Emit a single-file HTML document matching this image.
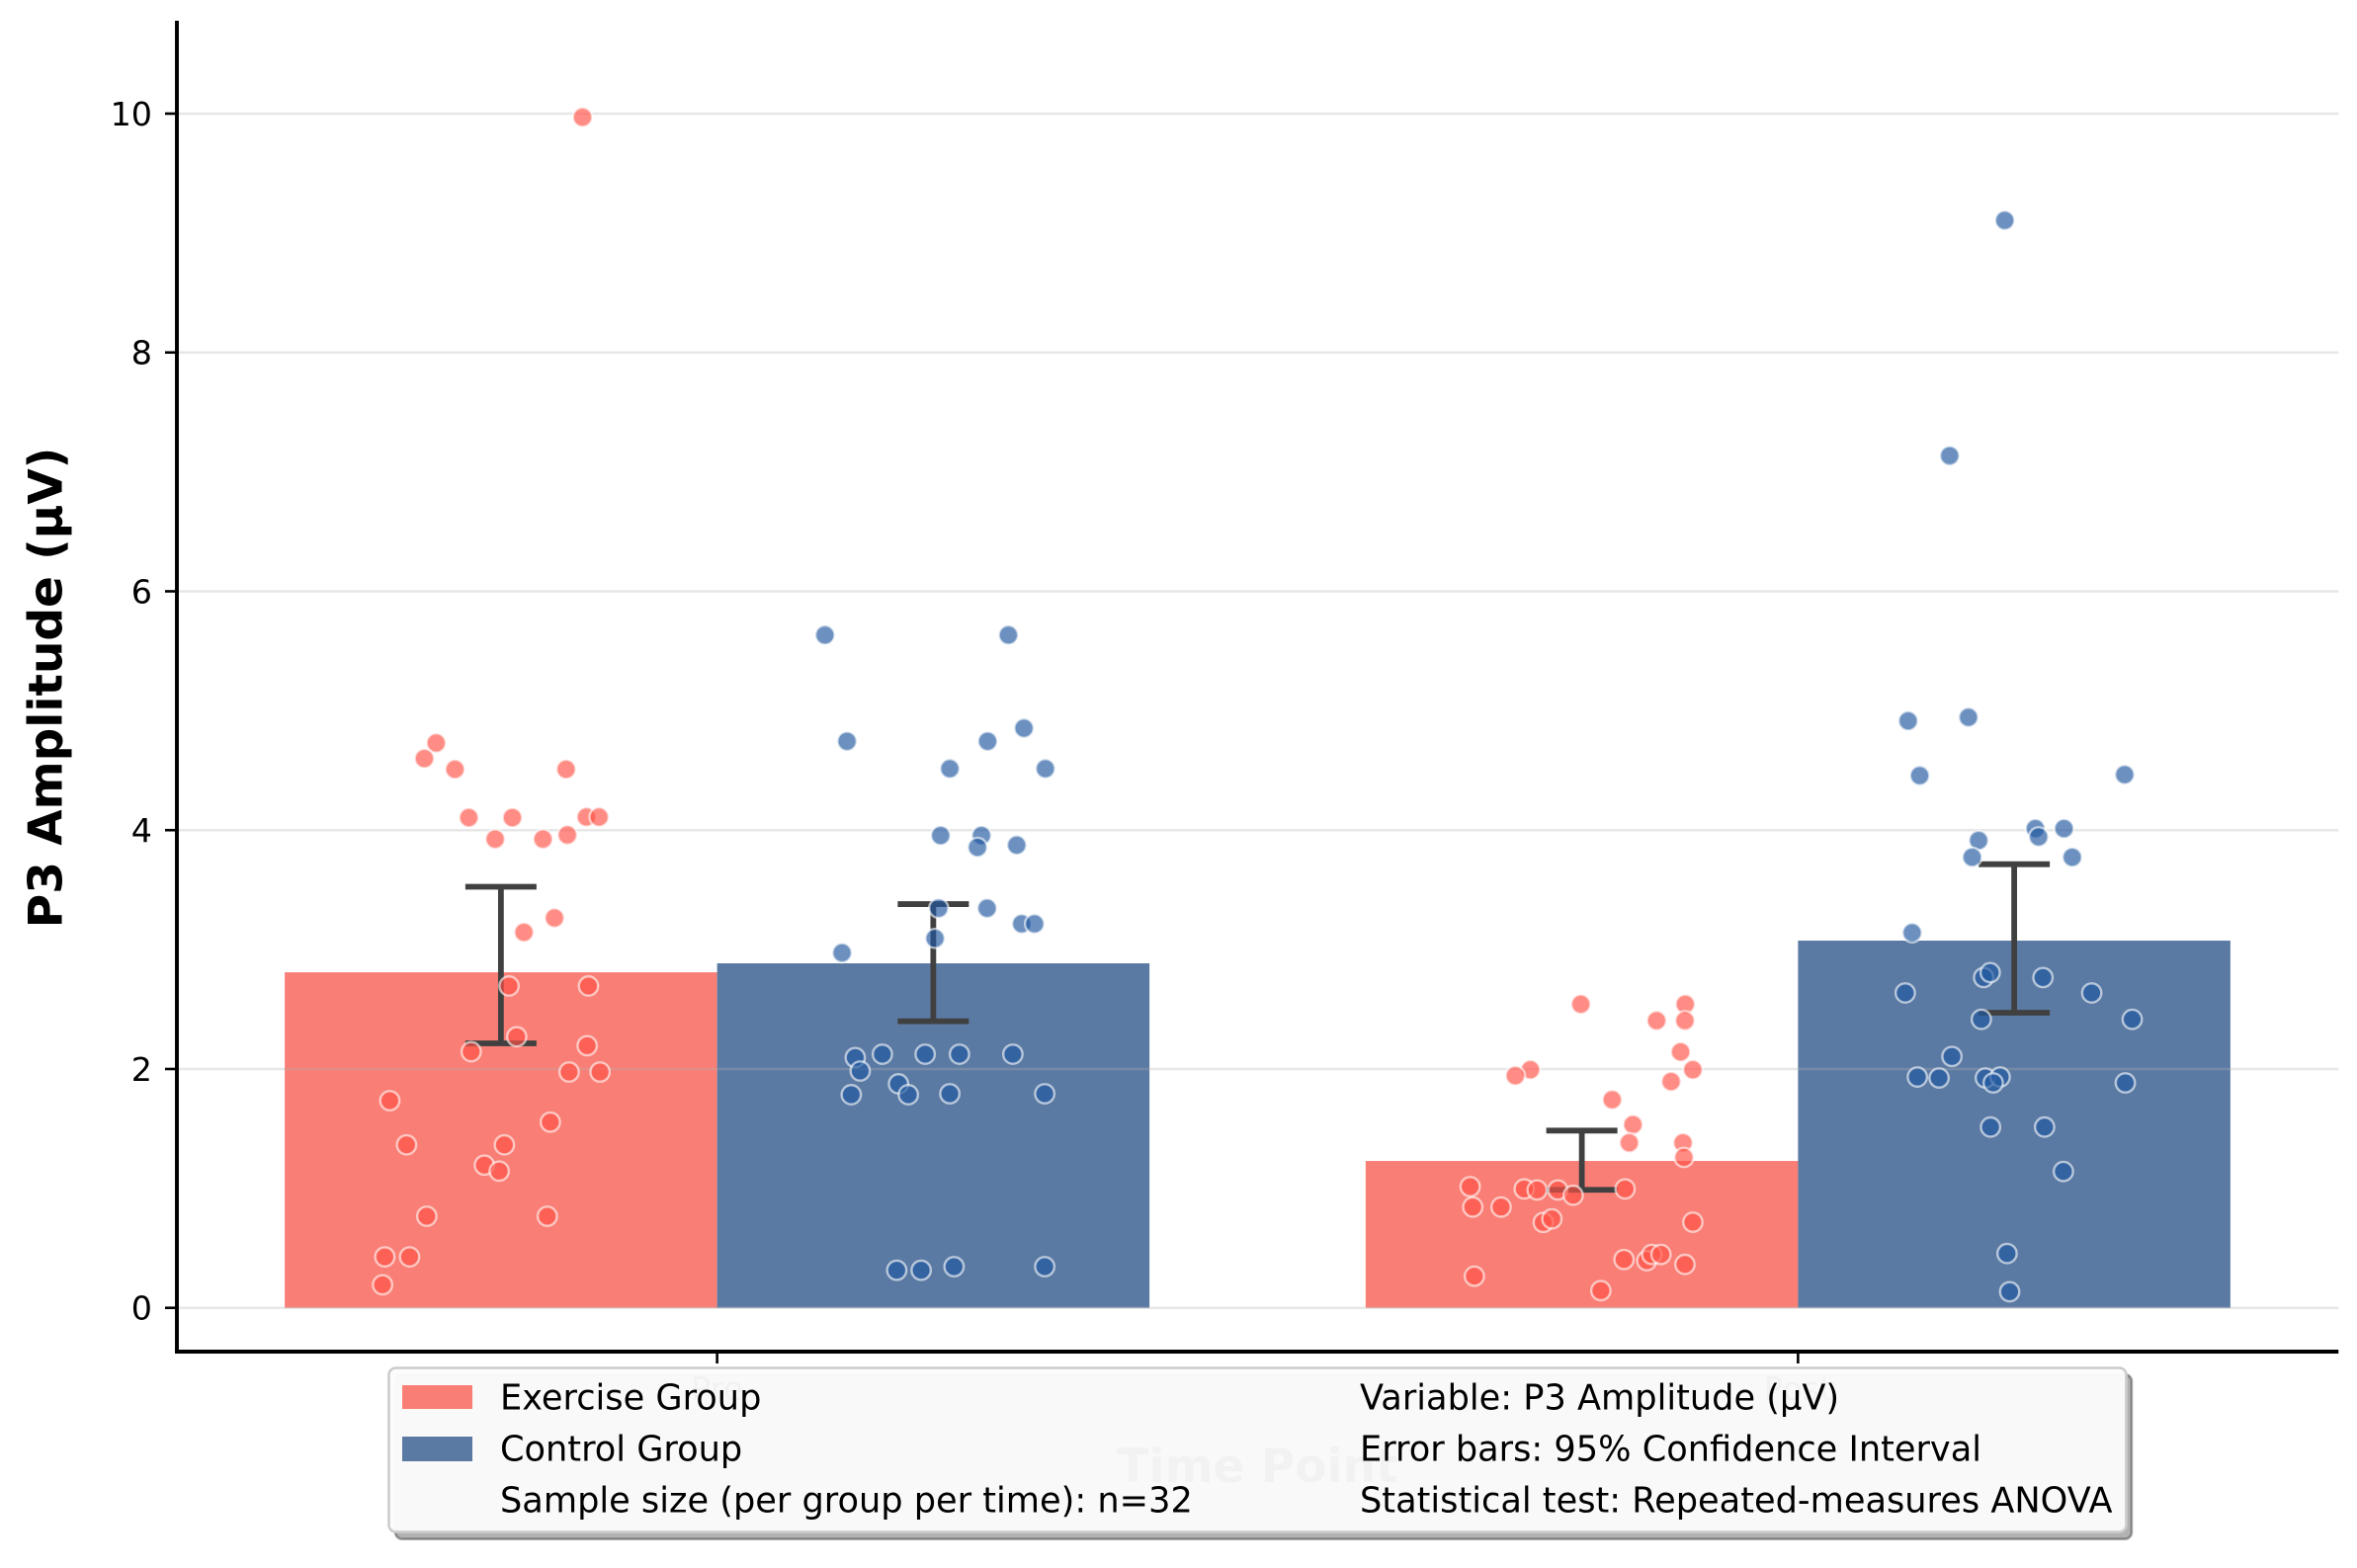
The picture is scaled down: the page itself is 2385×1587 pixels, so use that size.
<!DOCTYPE html>
<html lang="en">
<head>
<meta charset="utf-8">
<title>P3 Amplitude by Time Point</title>
<style>
  html, body { margin: 0; padding: 0; background: #ffffff; }
  svg { display: block; }
  text { font-family: "DejaVu Sans", "Liberation Sans", sans-serif; fill: #000; }
</style>
</head>
<body>
<svg id="chart" xmlns="http://www.w3.org/2000/svg" width="2385" height="1587" viewBox="0 0 2385 1587">
  <rect x="0" y="0" width="2385" height="1587" fill="#ffffff"/>
  <g id="grid-layer"></g>
  <g id="bar-layer"></g>
  <g id="grid-over-layer"></g>
  <g id="error-layer"></g>
  <g id="point-layer"></g>
  <g id="axis-layer"></g>
  <text transform="translate(62.5,696) rotate(-90)" text-anchor="middle" font-size="47" font-weight="bold">P3 Amplitude (µV)</text>
  <text x="1272.5" y="1500" text-anchor="middle" font-size="47" font-weight="bold">Time Point</text>

  <g>
    <rect x="400" y="1391" width="1757" height="166.7" rx="7" fill="#000000" fill-opacity="0.3" stroke="#000000" stroke-opacity="0.33" stroke-width="2.6"/>
    <rect x="393.5" y="1384.5" width="1758" height="166" rx="7" fill="#fcfcfc" fill-opacity="0.96" stroke="#cccccc" stroke-width="2.6"/>
    <rect x="407" y="1402" width="71" height="24" fill="#f97f76"/>
    <rect x="407" y="1454" width="71" height="25" fill="#5b7aa3"/>
    <text x="506" y="1426.5" font-size="35.15">Exercise Group</text>
    <text x="506" y="1478.5" font-size="35.15">Control Group</text>
    <text x="506" y="1530.5" font-size="35.15">Sample size (per group per time): n=32</text>
    <text x="1376" y="1426.5" font-size="35.15">Variable: P3 Amplitude (µV)</text>
    <text x="1376" y="1478.5" font-size="35.15">Error bars: 95% Confidence Interval</text>
    <text x="1376" y="1530.5" font-size="35.15">Statistical test: Repeated-measures ANOVA</text>
  </g>
</svg>

<script>
const categories = ['Pre', 'Post'];
const yTicks = [0, 2, 4, 6, 8, 10];
const exerciseMeans = [2.81, 1.23];
const controlMeans = [2.885, 3.075];
const exerciseCiLow = [2.215, 0.988];
const exerciseCiHigh = [3.526, 1.484];
const controlCiLow = [2.40, 2.471];
const controlCiHigh = [3.381, 3.715];

const exercisePreValues = [9.97,4.73,4.60,4.51,4.51,4.105,4.105,4.11,4.11,3.925,3.925,3.96,3.265,3.145,2.695,2.695,2.27,2.195,2.145,1.975,1.975,1.735,1.555,1.365,1.365,1.195,1.145,0.767,0.767,0.427,0.427,0.193];
const exercisePreJitter = [0.0755,-0.0599,-0.0708,-0.0425,0.0603,-0.0297,0.0106,0.0791,0.0908,-0.0053,0.0389,0.0615,0.0496,0.0213,0.0075,0.0810,0.0146,0.0798,-0.0275,0.0631,0.0917,-0.1028,0.0457,-0.0873,0.0032,-0.0153,-0.0016,-0.0686,0.0429,-0.1074,-0.0845,-0.1095];

const controlPreValues = [5.634,5.634,4.854,4.744,4.744,4.515,4.515,3.955,3.955,3.856,3.875,3.346,3.346,3.216,3.216,3.094,2.973,2.096,2.124,2.124,2.124,2.124,1.983,1.876,1.785,1.785,1.793,1.793,0.315,0.315,0.345,0.345];
const controlPreJitter = [-0.1002,0.0695,0.0839,-0.0798,0.0503,0.0153,0.1037,0.0068,0.0446,0.0409,0.0772,0.0050,0.0498,0.0818,0.0937,0.0016,-0.0844,-0.0722,-0.0471,-0.0075,0.0242,0.0736,-0.0676,-0.0322,-0.0759,-0.0231,0.0153,0.1031,-0.0338,-0.0112,0.0192,0.1031];

const exercisePostValues = [2.543,2.543,2.405,2.405,2.143,1.994,1.994,1.944,1.895,1.743,1.534,1.382,1.382,1.26,1.015,0.996,0.987,0.987,0.943,0.996,0.844,0.844,0.715,0.745,0.717,0.405,0.395,0.447,0.447,0.364,0.265,0.144];
const exercisePostJitter = [-0.0009,0.0957,0.0692,0.0954,0.0914,0.1027,-0.0476,-0.0615,0.0826,0.0281,0.0473,0.0439,0.0936,0.0945,-0.1033,-0.0533,-0.0414,-0.0222,-0.0080,0.0400,-0.1009,-0.0747,-0.0357,-0.0277,0.1027,0.0390,0.0601,0.0647,0.0732,0.0954,-0.0994,0.0176];

const controlPostValues = [9.106,7.135,4.945,4.915,4.457,4.465,4.013,4.013,3.944,3.914,3.773,3.773,3.141,2.766,2.807,2.766,2.637,2.637,2.416,2.416,2.105,1.933,1.925,1.925,1.933,1.884,1.884,1.514,1.514,1.142,0.455,0.135];
const controlPostJitter = [-0.0087,-0.0597,-0.0423,-0.0981,-0.0874,0.1022,0.0196,0.0461,0.0226,-0.0329,-0.0389,0.0537,-0.0944,-0.0283,-0.0222,0.0266,-0.1008,0.0717,-0.0304,0.1092,-0.0576,-0.0896,-0.0695,-0.0267,-0.0130,-0.0194,0.1028,-0.0219,0.0281,0.0455,-0.0066,-0.0042];

const barWidth = 0.4;

const NS = 'http://www.w3.org/2000/svg';
const xOf = t => 178.75 + (t + 0.5) * (2187.5 / 2);
const yOf = v => 1323.7 - v * 120.87;

function make(tag, parent, props) {
  const node = document.createElementNS(NS, tag);
  for (const k in props) node.setAttribute(k, props[k]);
  parent.appendChild(node);
  return node;
}

const gridOverLayer = document.getElementById('grid-over-layer');
const barLayer = document.getElementById('bar-layer');
const errorLayer = document.getElementById('error-layer');
const pointLayer = document.getElementById('point-layer');
const axisLayer = document.getElementById('axis-layer');

yTicks.forEach(function (tick) {
  const gridLine = make('line', gridOverLayer, { x1: xOf(-0.5), x2: xOf(1.5), y1: yOf(tick), y2: yOf(tick), stroke: '#b0b0b0', 'stroke-opacity': 0.3, 'stroke-width': 2.5 });
  
  
});

function drawBars(means, offset, color, label) {
  means.forEach(function (mean, i) {
    const bar = make('rect', barLayer, {
      x: xOf(i + offset - barWidth / 2),
      width: xOf(barWidth) - xOf(0),
      y: yOf(mean),
      height: yOf(0) - yOf(mean),
      fill: color
    });
    
    
  });
}
drawBars(exerciseMeans, -0.2, '#f97f76', 'exercise');
drawBars(controlMeans, 0.2, '#5b7aa3', 'control');

function drawErrors(lows, highs, offset, label) {
  lows.forEach(function (low, i) {
    const cx = xOf(i + offset);
    const group = make('g', errorLayer, { stroke: '#404040', 'stroke-width': 5.8 });
    
    
    make('line', group, { x1: cx, x2: cx, y1: yOf(low), y2: yOf(highs[i]) });
    make('line', group, { x1: cx - 36, x2: cx + 36, y1: yOf(low), y2: yOf(low) });
    make('line', group, { x1: cx - 36, x2: cx + 36, y1: yOf(highs[i]), y2: yOf(highs[i]) });
  });
}
drawErrors(exerciseCiLow, exerciseCiHigh, -0.2, 'exercise');
drawErrors(controlCiLow, controlCiHigh, 0.2, 'control');

function drawPoints(values, jitter, center, fill, label) {
  values.forEach(function (value, i) {
    const dot = make('circle', pointLayer, {
      cx: xOf(center + jitter[i]),
      cy: yOf(value),
      r: 9.7,
      fill: fill,
      'fill-opacity': 0.66,
      stroke: '#ffffff',
      'stroke-opacity': 0.6,
      'stroke-width': 2.4
    });
    
    
  });
}
drawPoints(exercisePreValues, exercisePreJitter, -0.2, 'rgb(255,82,70)', 'exercise-pre');
drawPoints(controlPreValues, controlPreJitter, 0.2, 'rgb(32,88,159)', 'control-pre');
drawPoints(exercisePostValues, exercisePostJitter, 0.8, 'rgb(255,82,70)', 'exercise-post');
drawPoints(controlPostValues, controlPostJitter, 1.2, 'rgb(32,88,159)', 'control-post');

yTicks.forEach(function (tick) {
  const mark = make('line', axisLayer, { x1: 167, x2: 179, y1: yOf(tick), y2: yOf(tick), stroke: '#000', 'stroke-width': 2.6 });
  
  
  const label = make('text', axisLayer, { x: 154, y: yOf(tick) + 12, 'text-anchor': 'end', 'font-size': 33.33 });
  label.textContent = String(tick);
  
  
});

categories.forEach(function (name, i) {
  const mark = make('line', axisLayer, { x1: xOf(i), x2: xOf(i), y1: 1368, y2: 1380, stroke: '#000', 'stroke-width': 2.6 });
  
  
  const label = make('text', axisLayer, { x: xOf(i), y: 1417, 'text-anchor': 'middle', 'font-size': 33.33 });
  label.textContent = name;
  
  
});

const leftSpine = make('line', axisLayer, { x1: 179, x2: 179, y1: 21, y2: 1370, stroke: '#000', 'stroke-width': 3.9 });


const bottomSpine = make('line', axisLayer, { x1: 177, x2: xOf(1.5), y1: 1368, y2: 1368, stroke: '#000', 'stroke-width': 3.9 });


</script>
</body>
</html>
